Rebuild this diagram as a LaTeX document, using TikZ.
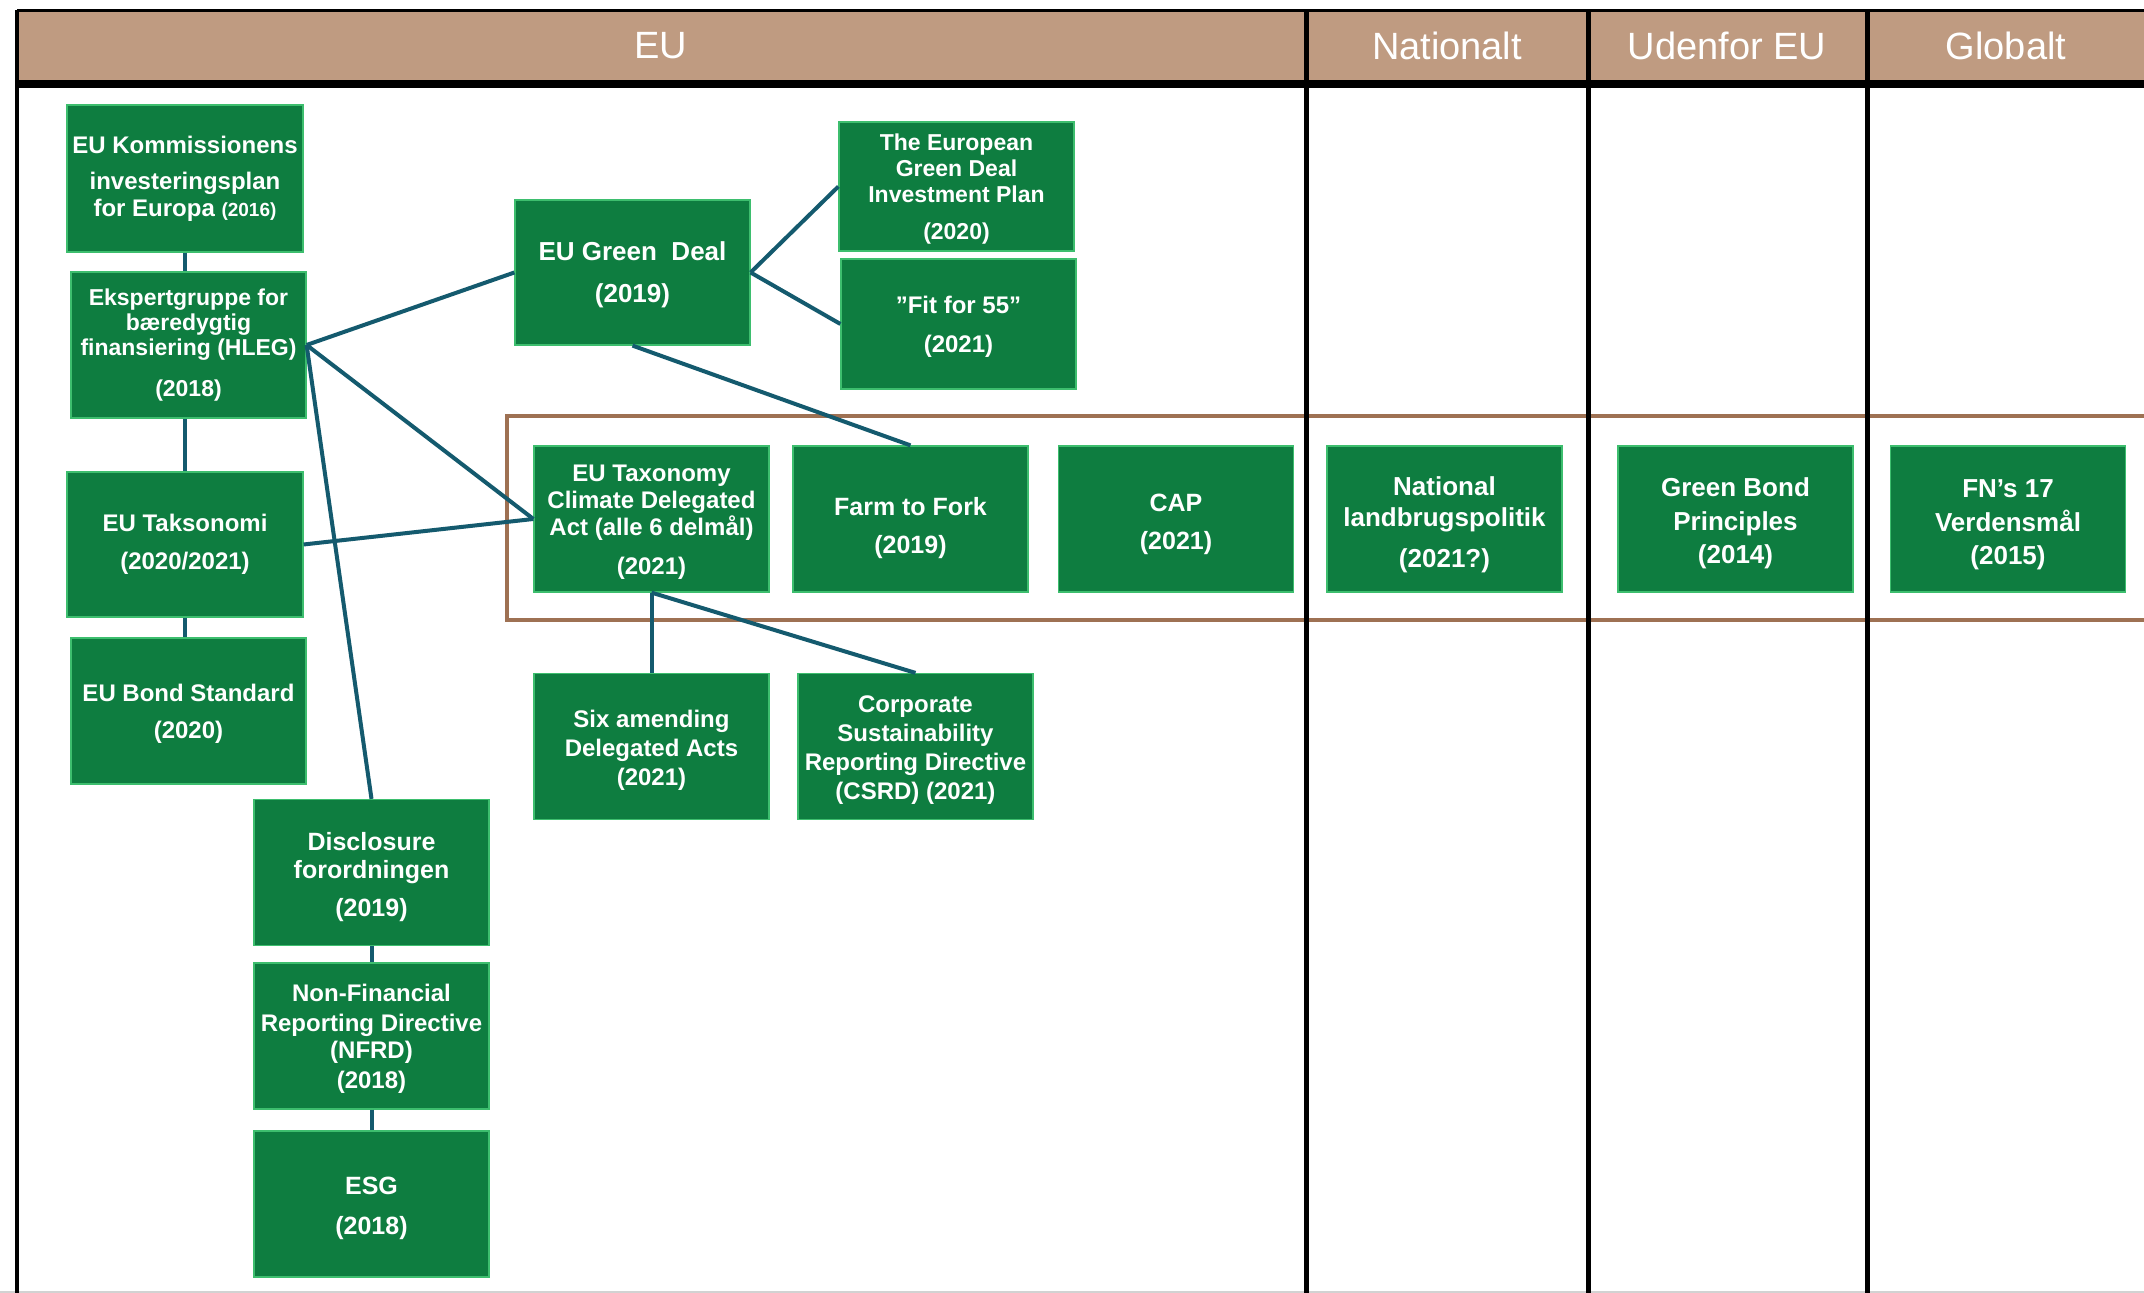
\documentclass[tikz,border=0pt]{standalone}
\usepackage{fontspec}
\setmainfont{Liberation Sans}
\definecolor{boxgreen}{HTML}{0E7D40}
\definecolor{boxedge}{HTML}{3DBE6E}
\definecolor{linkblue}{HTML}{145A6E}
\definecolor{hdrfill}{HTML}{BF9B81}
\definecolor{framebrown}{HTML}{9E7153}
\newcommand\gstr[1]{\rule{0pt}{#1}}
\begin{document}
\begin{tikzpicture}[x=0.5pt,y=-0.5pt,
  gbox/.style={draw=boxedge, fill=boxgreen, line width=0.6pt, text=white,
    font=\bfseries\fontsize{12}{13.5}\selectfont, align=center, inner sep=0pt,
    minimum width=117.5pt, minimum height=73pt},
  fs/.style 2 args={font=\bfseries\fontsize{#1}{#2}\selectfont},
  link/.style={draw=linkblue, line width=2pt},
  colline/.style={draw=black, line width=2.5pt},
  hdr/.style={text=white, font=\fontsize{19}{22}\selectfont, inner sep=0pt},
  framebox/.style={draw=framebrown, line width=2.2pt}]
\useasboundingbox (0,0) rectangle (2144,1293);
\clip (0,0) rectangle (2144,1293);
\fill[white] (0,0) rectangle (2144,1293);
% header
\fill[hdrfill] (17,12) rectangle (2144,80);
\fill[black] (17,80) rectangle (2144,88);
\draw[black, line width=1.5pt] (17,10.5) -- (2144,10.5);
\draw[gray!35, line width=1pt] (0,1291.5) -- (2144,1291.5);
% brown frame
\draw[framebox] (507,416) rectangle (2170,620);
% column lines
\draw[black, line width=2pt] (17,10) -- (17,1293);
\draw[colline] (1306,10) -- (1306,1293);
\draw[colline] (1588,10) -- (1588,1293);
\draw[colline] (1867,10) -- (1867,1293);
% header texts
\node[hdr] (hEU) at (661,46) {EU};
\node[hdr] (hNat) at (1447,46) {Nationalt};
\node[hdr] (hUd) at (1727,46) {Udenfor EU};
\node[hdr] (hGlob) at (2006,46) {Globalt};
% boxes
\node[gbox, minimum width=118pt, minimum height=73.5pt] (kom) at (185,178.5)
  {EU Kommissionens\\[4.5pt] investeringsplan\\ for Europa {\fontsize{9.5}{10}\selectfont(2016)}};
\node[gbox, fs={11.5}{12.5}] (eks) at (188.5,345)
  {Ekspertgruppe for\\ bæredygtig\\ finansiering (HLEG)\\[8pt] (2018)};
\node[gbox, fs={13}{14}, minimum height=72.5pt] (gd) at (632.5,272.5)
  {\gstr{12pt}EU Green\ \ Deal\\[7pt] (2019)};
\node[gbox, fs={11.5}{13}, minimum height=64.5pt] (ip) at (956.5,186.5)
  {\gstr{11pt}The European\\ Green Deal\\ Investment Plan\\[5.5pt] (2020)};
\node[gbox, minimum height=65pt] (fit) at (958.5,324)
  {\gstr{11.5pt}”Fit for 55”\\[6pt] (2021)};
\node[gbox, minimum width=118pt, minimum height=72.5pt] (tak) at (185,544.5)
  {EU Taksonomi\\[5.5pt] (2020/2021)};
\node[gbox] (bond) at (188.5,711)
  {\gstr{11.3pt}EU Bond Standard\\[5pt] (2020)};
\node[gbox] (cda) at (651.5,519)
  {\gstr{11.3pt}EU Taxonomy\\ Climate Delegated\\ Act (alle 6 delmål)\\[6pt] (2021)};
\node[gbox, fs={12.5}{14}] (ftf) at (910.5,519)
  {\gstr{18.5pt}Farm to Fork\\[5pt] (2019)};
\node[gbox, fs={12.5}{14}] (cap) at (1176,519)
  {\gstr{14.5pt}CAP\\[5pt] (2021)};
\node[gbox, fs={13}{14}] (nat) at (1444.5,519)
  {\gstr{15pt}National\\[1.5pt] landbrugspolitik\\[6.5pt] (2021?)};
\node[gbox, fs={13}{14}] (gbp) at (1735.5,519)
  {\gstr{13.5pt}Green Bond\\[3pt] Principles\\[2.5pt] (2014)};
\node[gbox, fs={13}{14}] (fn) at (2008,519)
  {\gstr{15pt}FN’s 17\\[3pt] Verdensmål\\[2.5pt] (2015)};
\node[gbox] (six) at (651.5,746.5)
  {\gstr{12.8pt}Six amending\\[1pt] Delegated Acts\\[1pt] (2021)};
\node[gbox] (csrd) at (915.5,746.5)
  {\gstr{11.5pt}Corporate\\[1pt] Sustainability\\[1pt] Reporting Directive\\[1pt] (CSRD) (2021)};
\node[gbox, fs={12.5}{14}] (disc) at (371.5,872.5)
  {\gstr{13.2pt}Disclosure\\ forordningen\\[5pt] (2019)};
\node[gbox] (nfrd) at (371.5,1036)
  {\gstr{11.3pt}Non-Financial\\[1.5pt] Reporting Directive\\ (NFRD)\\[1.5pt] (2018)};
\node[gbox, fs={12.5}{14}] (esg) at (371.5,1204)
  {\gstr{13pt}ESG\\[6pt] (2018)};
% connectors
\draw[link] (kom.south) -- (kom.south |- eks.north);
\draw[link] (tak.north |- eks.south) -- (tak.north);
\draw[link] (tak.south) -- (tak.south |- bond.north);
\draw[link] (eks.east) -- (gd.west);
\draw[link] (eks.east) -- (cda.west);
\draw[link] (eks.east) -- (disc.north);
\draw[link] (tak.east) -- (cda.west);
\draw[link] (gd.east) -- (ip.west);
\draw[link] (gd.east) -- (fit.west);
\draw[link] (gd.south) -- (ftf.north);
\draw[link] (cda.south) -- (six.north);
\draw[link] (cda.south) -- (csrd.north);
\draw[link] (disc.south) -- (nfrd.north);
\draw[link] (nfrd.south) -- (esg.north);
\end{tikzpicture}
\end{document}
